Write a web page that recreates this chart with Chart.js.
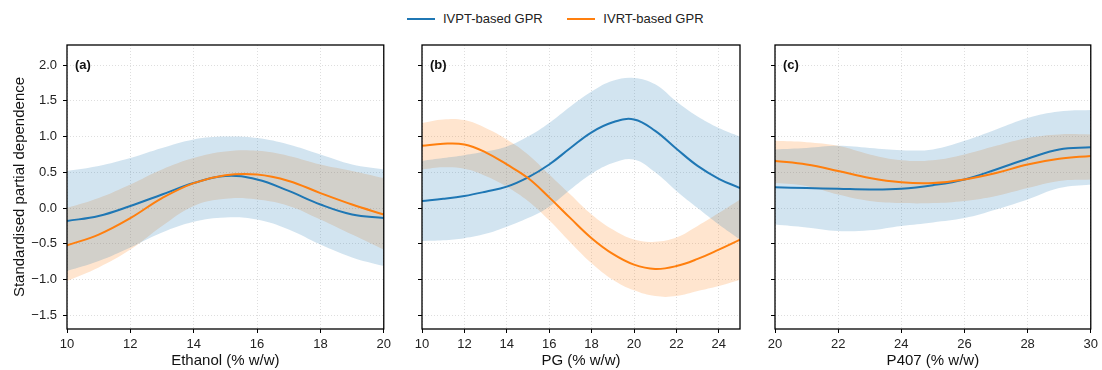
<!DOCTYPE html>
<html>
<head>
<meta charset="utf-8">
<script src="https://cdn.jsdelivr.net/npm/chart.js@4/dist/chart.umd.min.js"></script>
<style>
  body { margin: 0; background: #fff; }
  #wrap { position: relative; width: 1102px; height: 370px; overflow: hidden; font-family: "Liberation Sans", Arial, sans-serif; }
  canvas { position: absolute; top: 0; }
  #legend { position: absolute; top: 11px; left: 407px; font-size: 13px; color: #222; white-space: nowrap; }
  #legend .item { display: inline-block; margin-right: 21px; }
  #legend .sw { display: inline-block; width: 28px; height: 0; border-top: 2px solid; vertical-align: middle; margin-right: 8px; position: relative; top: -1px; }
</style>
</head>
<body>
<div id="wrap">
  <div id="legend">
    <span class="item"><span class="sw" style="border-color:#1f77b4"></span>IVPT-based GPR</span>
    <span class="item"><span class="sw" style="border-color:#ff7f0e"></span>IVRT-based GPR</span>
  </div>
  <canvas id="panelA" width="395" height="370" style="left:0px"></canvas>
  <canvas id="panelB" width="355" height="370" style="left:395px"></canvas>
  <canvas id="panelC" width="352" height="370" style="left:750px"></canvas>
</div>
<script>
// --- Data (x grid, mean and band for each model) ---
const ethanolX = [10, 11, 12, 13, 14, 15, 16, 17, 18, 19, 20];
const ethanolPT = [-0.18, -0.11, 0.03, 0.19, 0.35, 0.45, 0.40, 0.24, 0.05, -0.09, -0.14];
const ethanolPTHi = [0.52, 0.59, 0.70, 0.84, 0.96, 1.0, 0.98, 0.89, 0.75, 0.61, 0.54];
const ethanolPTLo = [-0.88, -0.74, -0.55, -0.34, -0.19, -0.13, -0.16, -0.3, -0.51, -0.69, -0.81];
const ethanolRT = [-0.52, -0.37, -0.14, 0.14, 0.35, 0.46, 0.47, 0.38, 0.21, 0.05, -0.09];
const ethanolRTHi = [0.0, 0.14, 0.33, 0.54, 0.70, 0.79, 0.8, 0.73, 0.61, 0.52, 0.42];
const ethanolRTLo = [-1.02, -0.83, -0.58, -0.25, 0.03, 0.13, 0.12, 0.03, -0.16, -0.37, -0.58];

const pgX = [10, 11, 12, 13, 14, 15, 16, 17, 18, 19, 20, 21, 22, 23, 24, 25];
const pgPT = [0.1, 0.13, 0.17, 0.23, 0.30, 0.43, 0.61, 0.84, 1.06, 1.2, 1.24, 1.08, 0.83, 0.59, 0.41, 0.28];
const pgPTHi = [0.66, 0.7, 0.74, 0.79, 0.86, 1.0, 1.19, 1.42, 1.63, 1.78, 1.82, 1.73, 1.49, 1.28, 1.12, 1.0];
const pgPTLo = [-0.46, -0.45, -0.42, -0.36, -0.26, -0.14, 0.02, 0.26, 0.48, 0.63, 0.68, 0.5, 0.24, 0.0, -0.23, -0.44];
const pgRT = [0.87, 0.9, 0.89, 0.78, 0.61, 0.42, 0.15, -0.14, -0.42, -0.64, -0.79, -0.85, -0.81, -0.71, -0.58, -0.44];
const pgRTHi = [1.19, 1.24, 1.23, 1.12, 0.96, 0.75, 0.47, 0.19, -0.09, -0.30, -0.44, -0.47, -0.41, -0.25, -0.07, 0.12];
const pgRTLo = [0.54, 0.57, 0.55, 0.45, 0.3, 0.1, -0.17, -0.48, -0.77, -1.0, -1.15, -1.23, -1.23, -1.16, -1.09, -1.0];

const p407X = [20, 21, 22, 23, 24, 25, 26, 27, 28, 29, 30];
const p407PT = [0.29, 0.28, 0.27, 0.26, 0.27, 0.32, 0.40, 0.54, 0.69, 0.82, 0.85];
const p407PTHi = [0.82, 0.84, 0.87, 0.84, 0.81, 0.82, 0.94, 1.1, 1.26, 1.35, 1.37];
const p407PTLo = [-0.23, -0.27, -0.32, -0.31, -0.25, -0.2, -0.14, -0.02, 0.12, 0.28, 0.33];
const p407RT = [0.66, 0.61, 0.52, 0.42, 0.36, 0.35, 0.40, 0.49, 0.61, 0.69, 0.73];
const p407RTHi = [0.94, 0.92, 0.87, 0.75, 0.67, 0.67, 0.75, 0.87, 0.98, 1.03, 1.03];
const p407RTLo = [0.35, 0.31, 0.19, 0.10, 0.07, 0.07, 0.10, 0.17, 0.28, 0.38, 0.40];

const yTitle = "Standardised partial dependence";

// --- Styling ---
const fontFam = '"Liberation Sans", Arial, sans-serif';
const blue = "#1f77b4";
const orange = "#ff7f0e";
const blueBand = "rgba(31,119,180,0.2)";
const orangeBand = "rgba(255,127,14,0.2)";
const clear = "rgba(0,0,0,0)";

function pts(xs, ys) {
  return xs.map((x, i) => ({ x: x, y: ys[i] }));
}

function fmt(v) {
  return v.toFixed(1).replace("-", "\u2212");
}

// frame round the plot area + panel tag
const framePlugin = {
  id: "frame",
  afterDatasetsDraw(chart, args, opts) {
    const a = chart.chartArea;
    const ctx = chart.ctx;
    ctx.save();
    ctx.strokeStyle = "#000";
    ctx.lineWidth = 1.3;
    ctx.strokeRect(a.left, a.top, a.right - a.left, a.bottom - a.top);
    ctx.fillStyle = "#111";
    ctx.font = "bold 13px " + fontFam;
    ctx.textBaseline = "middle";
    ctx.fillText(opts.tag, a.left + 8, chart.scales.y.getPixelForValue(2.0));
    ctx.restore();
  }
};

function makePanel(id, cfg) {
  const ctx = document.getElementById(id).getContext("2d");
  return new Chart(ctx, {
    type: "line",
    data: {
      datasets: [
        { label: "IVRT-based GPR", data: pts(cfg.x, cfg.rt), borderColor: orange, borderWidth: 2, fill: false },
        { label: "IVPT-based GPR", data: pts(cfg.x, cfg.pt), borderColor: blue, borderWidth: 2, fill: false },
        { data: pts(cfg.x, cfg.ptLo), borderColor: clear, borderWidth: 0, fill: false },
        { data: pts(cfg.x, cfg.ptHi), borderColor: clear, borderWidth: 0, fill: 2, backgroundColor: blueBand },
        { data: pts(cfg.x, cfg.rtLo), borderColor: clear, borderWidth: 0, fill: false },
        { data: pts(cfg.x, cfg.rtHi), borderColor: clear, borderWidth: 0, fill: 4, backgroundColor: orangeBand }
      ]
    },
    options: {
      responsive: false,
      animation: false,
      layout: { padding: { top: 45, right: cfg.padR, bottom: 0, left: 0 } },
      elements: { point: { radius: 0 }, line: { tension: 0.4 } },
      plugins: { legend: { display: false }, tooltip: { enabled: false }, frame: { tag: cfg.tag } },
      scales: {
        x: {
          type: "linear",
          min: cfg.xMin,
          max: cfg.xMax,
          afterFit: s => { s.height = 41; },
          ticks: { stepSize: 2, includeBounds: false, autoSkip: false, maxRotation: 0, padding: 4,
                   color: "#222", font: { family: fontFam, size: 13 } },
          grid: { color: "#d6d6d6", lineWidth: 0.8, drawTicks: true, tickLength: 4,
                  tickColor: "#000", tickWidth: 1, tickBorderDash: [] },
          border: { display: false, dash: [1, 2] },
          title: { display: true, text: cfg.xTitle, color: "#111", padding: { top: 0, bottom: 0 },
                   font: { family: fontFam, size: 15 } }
        },
        y: {
          min: -1.69,
          max: 2.28,
          afterFit: s => { s.width = cfg.yW; },
          ticks: { stepSize: 0.5, includeBounds: false, display: cfg.showY, padding: 6,
                   color: "#222", font: { family: fontFam, size: 13 }, callback: v => fmt(v) },
          grid: { color: "#d6d6d6", lineWidth: 0.8, drawTicks: true, tickLength: 4,
                  tickColor: "#000", tickWidth: 1, tickBorderDash: [] },
          border: { display: false, dash: [1, 2] },
          title: { display: cfg.showY, text: yTitle, color: "#111", padding: { top: 11, bottom: 0 },
                   font: { family: fontFam, size: 15 } }
        }
      }
    },
    plugins: [framePlugin]
  });
}

makePanel("panelA", {
  tag: "(a)", xTitle: "Ethanol (% w/w)", xMin: 10, xMax: 20, yW: 67, padR: 10, showY: true,
  x: ethanolX, pt: ethanolPT, ptHi: ethanolPTHi, ptLo: ethanolPTLo,
  rt: ethanolRT, rtHi: ethanolRTHi, rtLo: ethanolRTLo
});

makePanel("panelB", {
  tag: "(b)", xTitle: "PG (% w/w)", xMin: 10, xMax: 25, yW: 27, padR: 10, showY: false,
  x: pgX, pt: pgPT, ptHi: pgPTHi, ptLo: pgPTLo,
  rt: pgRT, rtHi: pgRTHi, rtLo: pgRTLo
});

makePanel("panelC", {
  tag: "(c)", xTitle: "P407 (% w/w)", xMin: 20, xMax: 30, yW: 25, padR: 8, showY: false,
  x: p407X, pt: p407PT, ptHi: p407PTHi, ptLo: p407PTLo,
  rt: p407RT, rtHi: p407RTHi, rtLo: p407RTLo
});
</script>
</body>
</html>
